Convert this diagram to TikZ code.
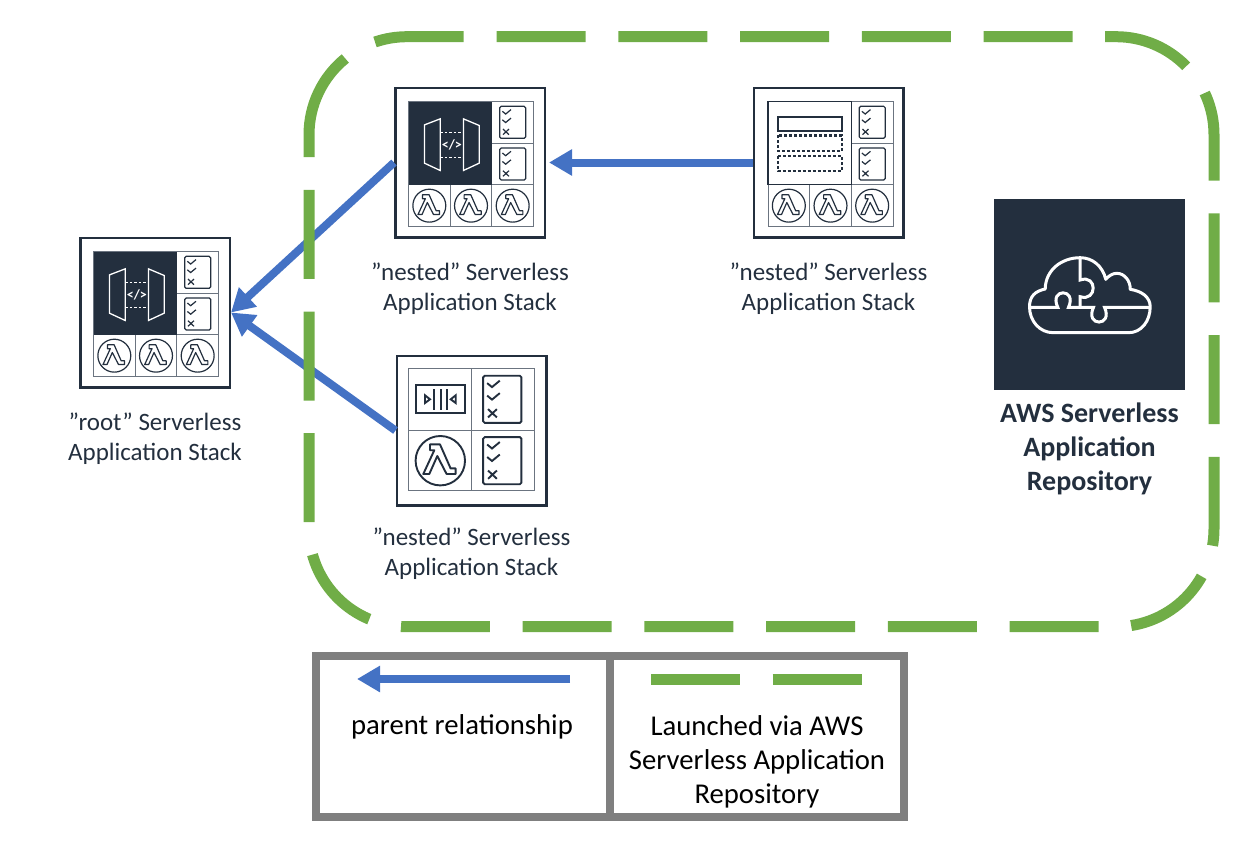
\documentclass[tikz,border=0pt]{standalone}
\usepackage{fontspec}
\setmainfont{Carlito}
\usetikzlibrary{positioning,arrows.meta}
\definecolor{awsnavy}{HTML}{232F3E}
\definecolor{linkblue}{HTML}{4472C4}
\definecolor{repogreen}{HTML}{70AD47}
\definecolor{legendgray}{HTML}{7F7F7F}
\definecolor{cellgray}{HTML}{6B7480}
\tikzset{
	stackbox/.style={rectangle,draw=awsnavy,line width=2.5pt,minimum size=149.5pt,fill=white,inner sep=0pt},
	repobox/.style={rectangle,fill=awsnavy,minimum size=191pt,inner sep=0pt},
	stacklabel/.style={align=center,text=awsnavy,inner sep=0pt,font=\fontsize{25}{30}\selectfont},
	repolabel/.style={align=center,text=awsnavy,inner sep=0pt,font=\bfseries\fontsize{28}{34}\selectfont},
	legendbox/.style={rectangle,draw=legendgray,line width=8pt,minimum width=294pt,minimum height=161pt,inner sep=0pt},
	legendtext/.style={align=center,text=black,inner sep=0pt,font=\fontsize{28.7}{34}\selectfont},
	parentlink/.style={-{Triangle[length=23pt,width=25pt]},draw=linkblue,line width=8pt},
	repodash/.style={draw=repogreen,line width=11pt,dash pattern=on 89pt off 32.7pt},
	reposolid/.style={draw=repogreen,line width=11pt},
	cellline/.style={draw=cellgray,line width=0.9pt},
	smallicon/.style={line width=1.2pt},
	bigicon/.style={line width=1.9pt},
	checklist/.pic={
		\draw[awsnavy,rounded corners=1.5pt] (-13,-16) rectangle (13,16);
		\draw[awsnavy] (-10.3,-11) -- (-7,-8.3) -- (-1.7,-12.7);
		\draw[awsnavy] (-10.3,-2.5) -- (-7,0.2) -- (-1.7,-4.2);
		\draw[awsnavy] (-9.7,6.7) -- (-3.7,12.3) (-3.7,6.7) -- (-9.7,12.3);
	},
	lambdafn/.pic={
		\draw[awsnavy] (0,0) circle (24.7pt);
		\draw[awsnavy,line join=round] (-10.3,-16.3) -- (-0.3,-16.3) -- (10.3,7.7) -- (15.3,7.7) -- (15.3,13.3) -- (6.3,13.3)
			-- (-3,-4.7) -- (-11,13.3) -- (-17,13.3) -- (-6,-10.5) -- (-10.3,-10.5) -- cycle;
	},
	gateway/.pic={
		\fill[awsnavy] (-41.67,-41.67) rectangle (41.67,41.67);
		\draw[white,line width=1.3pt] (-25.7,-18.3) -- (-10,-24.3) -- (-10,27.3) -- (-25.7,20) -- cycle;
		\draw[white,line width=1.3pt] (13.3,-24.3) -- (29,-17.7) -- (29,20) -- (13.3,27.3) -- cycle;
		\draw[white,line width=1.3pt,dash pattern=on 2.5pt off 2pt] (-10,-11) -- (13.3,-11) (-10,14) -- (13.3,14);
		\node[white,inner sep=0pt,font=\bfseries\fontsize{14}{14}\selectfont] (-code) at (1.7,1.7) {</>};
	},
	tableicon/.pic={
		\draw[awsnavy,line width=1.3pt] (-41.67,-41.67) rectangle (41.67,41.67);
		\draw[awsnavy,line width=2.2pt] (-32,-26.3) rectangle (32,-12);
		\draw[awsnavy,line width=2.2pt,dash pattern=on 3pt off 2pt] (-32,-7.7) rectangle (32,8);
		\draw[awsnavy,line width=2.2pt,dash pattern=on 3pt off 2pt] (-32,13) rectangle (32,28);
	},
	queueicon/.pic={
		\draw[awsnavy] (-24,-13.7) rectangle (25,14);
		\draw[awsnavy] (-5.7,-10) -- (-5.7,11.3) (0.7,-10) -- (0.7,11.3) (6.7,-10) -- (6.7,11.3);
		\draw[awsnavy] (-15,-3.7) -- (-10,0.3) -- (-15,4) -- cycle;
		\draw[awsnavy] (15.7,-3.7) -- (10.7,0.3) -- (15.7,4) -- cycle;
	},
	threegrid/.pic={
		\draw[cellline] (-62.5,-62.5) rectangle (62.5,62.5);
		\draw[cellline] (-62.5,20.83) -- (62.5,20.83) (-62.5,-20.83) -- (62.5,-20.83);
		\draw[cellline] (-20.83,-62.5) -- (-20.83,62.5) (20.83,-62.5) -- (20.83,62.5);
		\fill[white] (-62,-62) rectangle (20.4,20.4);
		\pic[smallicon] at (41.67,-41.67) {checklist};
		\pic[smallicon] at (41.67,0) {checklist};
		\pic[smallicon,scale=2/3] at (-41.67,41.67) {lambdafn};
		\pic[smallicon,scale=2/3] at (0,41.67) {lambdafn};
		\pic[smallicon,scale=2/3] at (41.67,41.67) {lambdafn};
	},
	cloudicon/.pic={
		\draw[white,line width=3pt,line join=round] (-36,38.7) .. controls (-50,38.7) and (-60,27) .. (-60,12.7)
			.. controls (-60,2) and (-54,-3) .. (-44.3,-5)
			.. controls (-44,-24) and (-28,-36.3) .. (-9.3,-36.3)
			.. controls (3,-36.3) and (13,-28) .. (16.3,-14.7)
			.. controls (19,-18) and (23,-20.7) .. (27.3,-20.7)
			.. controls (35,-20.7) and (41,-13) .. (40.7,-4.7)
			.. controls (52,-3) and (60.7,3) .. (60.7,12.7)
			.. controls (60.7,27) and (52,38.7) .. (39,38.7) -- cycle;
		\draw[white,line width=3pt] (-9.3,-36.3) -- (-9.3,-14) .. controls (8,-20) and (8,8) .. (-9.3,2.7) -- (-9.3,13.3);
		\draw[white,line width=3pt] (-59,13.3) -- (-31.7,13.3) .. controls (-41,-6) and (-12,-6) .. (-21,13.3)
			-- (4,13.3) .. controls (-5,33) and (24,33) .. (15,13.3) -- (60,13.3);
	}
}

\begin{document}
\begin{tikzpicture}[x=1pt,y=-1pt]
	\useasboundingbox (0,0) rectangle (1252,854);
	
	\node[stackbox] (rootstack) at (155,312.5) {};
	\node[stackbox] (apistack) at (470,162.5) {};
	\node[stackbox] (tablestack) at (828.5,162.5) {};
	\node[stackbox] (queuestack) at (471.5,430.5) {};
	\node[repobox] (repo) at (1089.5,294) {};
	
	% stack contents
	\pic[shift={(1,1.5)}] at (rootstack) {threegrid};
	\pic[shift={(-19.83,-19.33)}] at (rootstack) {gateway};
	\pic[shift={(1,1.5)}] at (apistack) {threegrid};
	\pic[shift={(-19.83,-19.33)}] at (apistack) {gateway};
	\pic[shift={(2,1.5)}] at (tablestack) {threegrid};
	\pic[shift={(-18.83,-19.33)}] at (tablestack) {tableicon};
	
	\draw[cellline] (408,368) rectangle (534,490);
	\draw[cellline] (471.5,368) -- (471.5,490) (408,430.7) -- (534,430.7);
	\pic[bigicon] at (440,399) {queueicon};
	\pic[bigicon,scale=1.47] at (502.3,399.3) {checklist};
	\pic[bigicon] at (440.3,460.7) {lambdafn};
	\pic[bigicon,scale=1.47] at (502.3,460.7) {checklist};
	\pic at (repo) {cloudicon};
	
	\draw[parentlink] (apistack.west) -- (rootstack.east);
	\draw[parentlink] (queuestack.west) -- (rootstack.east);
	\draw[parentlink,shorten >=3pt] (tablestack.west) -- (apistack.east);
	
	% repository outline
	\draw[repodash,rounded corners=98pt] (496.7,36.7) -- (1214,36.7) -- (1214,626.7) -- (309,626.7) -- (309,156);
	\draw[reposolid] (309,156) -- (309,134.7) .. controls (309,105.1) and (322.3,77.1) .. (345.3,58.5);
	\draw[reposolid] (375,42) .. controls (385.3,38.5) and (396.1,36.7) .. (407,36.7) -- (463.7,36.7);
	
	\node[stacklabel,below=24pt of rootstack] (rootlabel) {”root” Serverless\\Application Stack};
	\node[stacklabel,below=24pt of apistack] (apilabel) {”nested” Serverless\\Application Stack};
	\node[stacklabel,below=24pt of tablestack] (tablelabel) {”nested” Serverless\\Application Stack};
	\node[stacklabel,below=21pt of queuestack] (queuelabel) {”nested” Serverless\\Application Stack};
	\node[repolabel,below=13pt of repo] (repolabel) {AWS Serverless\\Application\\Repository};
	
	% legend
	\node[legendbox] (parentbox) at (463,736.5) {};
	\node[legendbox] (launchbox) at (757,736.5) {};
	\coordinate (parentstart) at (570,679);
	\coordinate (parentend) at (357,679);
	\coordinate (dashstart) at (651,679);
	\coordinate (dashend) at (862,679);
	\draw[parentlink] (parentstart) -- (parentend);
	\draw[repodash] (dashstart) -- (dashend);
	\node[legendtext] (parenttext) at (462,727) {parent relationship};
	\node[legendtext] (launchtext) at (757,761.5) {Launched via AWS\\Serverless Application\\Repository};
\end{tikzpicture}
\end{document}
